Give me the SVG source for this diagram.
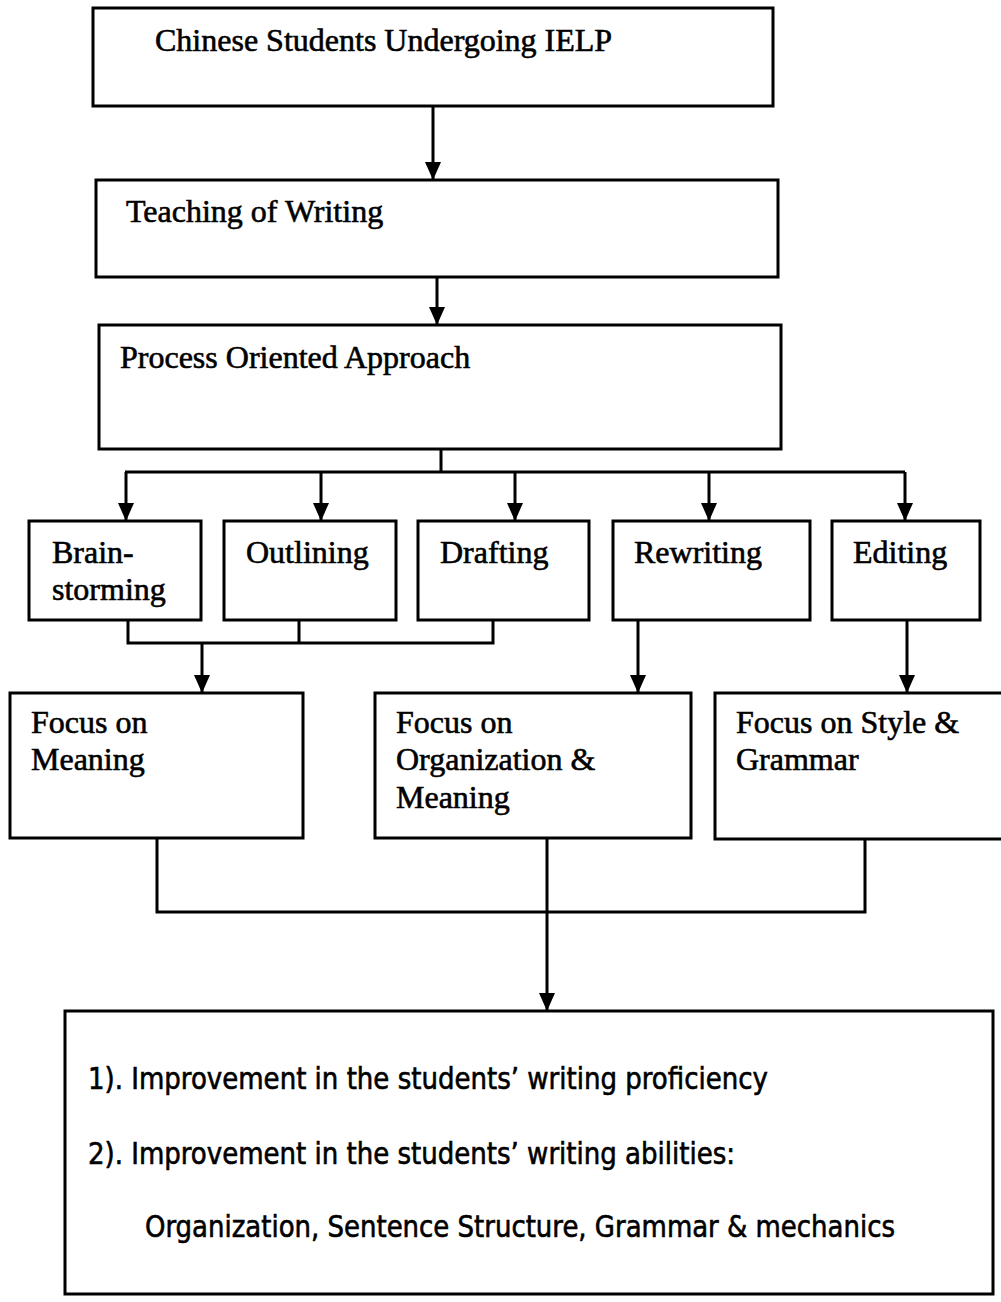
<svg xmlns="http://www.w3.org/2000/svg" width="1001" height="1302" viewBox="0 0 1001 1302">
<style>
.box{fill:#fff;stroke:#000;stroke-width:3}
.t{font-family:"Liberation Serif","Times New Roman",serif;font-size:32px;fill:#000;stroke:#000;stroke-width:0.6}
.s{font-family:"DejaVu Sans Condensed","DejaVu Sans",sans-serif;font-size:31px;fill:#000;stroke:#000;stroke-width:0.6}
.c{fill:none;stroke:#000;stroke-width:3}
</style>
<defs>
<marker id="ah" markerUnits="userSpaceOnUse" markerWidth="19" markerHeight="17" refX="18" refY="8" orient="auto" viewBox="0 0 19 17">
<path d="M0,0 L18,8 L0,16 z" fill="#000"/>
</marker>
</defs>
<rect width="1001" height="1302" fill="#fff"/>
<g id="connectors">
<path class="c" d="M433,106 V180" marker-end="url(#ah)"/>
<path class="c" d="M437,277 V325" marker-end="url(#ah)"/>
<path class="c" d="M441,449 V472 M125,472 H905"/>
<path class="c" d="M126,472 V521" marker-end="url(#ah)"/>
<path class="c" d="M321,472 V521" marker-end="url(#ah)"/>
<path class="c" d="M515,472 V521" marker-end="url(#ah)"/>
<path class="c" d="M709,472 V521" marker-end="url(#ah)"/>
<path class="c" d="M905,472 V521" marker-end="url(#ah)"/>
<path class="c" d="M128,620 V643 H493 V620 M299,620 V643"/>
<path class="c" d="M202,643 V693" marker-end="url(#ah)"/>
<path class="c" d="M638,620 V693" marker-end="url(#ah)"/>
<path class="c" d="M907,620 V693" marker-end="url(#ah)"/>
<path class="c" d="M157,838 V912 H865 V840"/>
<path class="c" d="M547,838 V1011" marker-end="url(#ah)"/>
</g>
<g id="n1"><rect class="box" x="93" y="8" width="680" height="98"/><text class="t" x="155" y="51">Chinese Students Undergoing IELP</text></g>
<g id="n2"><rect class="box" x="96" y="180" width="682" height="97"/><text class="t" x="126" y="222">Teaching of Writing</text></g>
<g id="n3"><rect class="box" x="99" y="325" width="682" height="124"/><text class="t" x="120" y="368">Process Oriented Approach</text></g>
<g id="n4"><rect class="box" x="29" y="521" width="172" height="99"/><text class="t" x="52" y="563">Brain-</text><text class="t" x="52" y="600">storming</text></g>
<g id="n5"><rect class="box" x="224" y="521" width="172" height="99"/><text class="t" x="246" y="563">Outlining</text></g>
<g id="n6"><rect class="box" x="418" y="521" width="171" height="99"/><text class="t" x="440" y="563">Drafting</text></g>
<g id="n7"><rect class="box" x="613" y="521" width="197" height="99"/><text class="t" x="634" y="563">Rewriting</text></g>
<g id="n8"><rect class="box" x="832" y="521" width="148" height="99"/><text class="t" x="853" y="563">Editing</text></g>
<g id="n9"><rect class="box" x="10" y="693" width="293" height="145"/><text class="t" x="31" y="733">Focus on</text><text class="t" x="31" y="770">Meaning</text></g>
<g id="n10"><rect class="box" x="375" y="693" width="316" height="145"/><text class="t" x="396" y="733">Focus on</text><text class="t" x="396" y="770">Organization &amp;</text><text class="t" x="396" y="808">Meaning</text></g>
<g id="n11"><rect class="box" x="715" y="693" width="300" height="146"/><text class="t" x="736" y="733">Focus on Style &amp;</text><text class="t" x="736" y="770">Grammar</text></g>
<g id="n12"><rect class="box" x="65" y="1011" width="928" height="283"/>
<text class="s" x="88" y="1089" textLength="680" lengthAdjust="spacingAndGlyphs">1). Improvement in the students’ writing proficiency</text>
<text class="s" x="88" y="1164" textLength="647" lengthAdjust="spacingAndGlyphs">2). Improvement in the students’ writing abilities:</text>
<text class="s" x="145" y="1237" textLength="750" lengthAdjust="spacingAndGlyphs">Organization, Sentence Structure, Grammar &amp; mechanics</text>
</g>
</svg>
